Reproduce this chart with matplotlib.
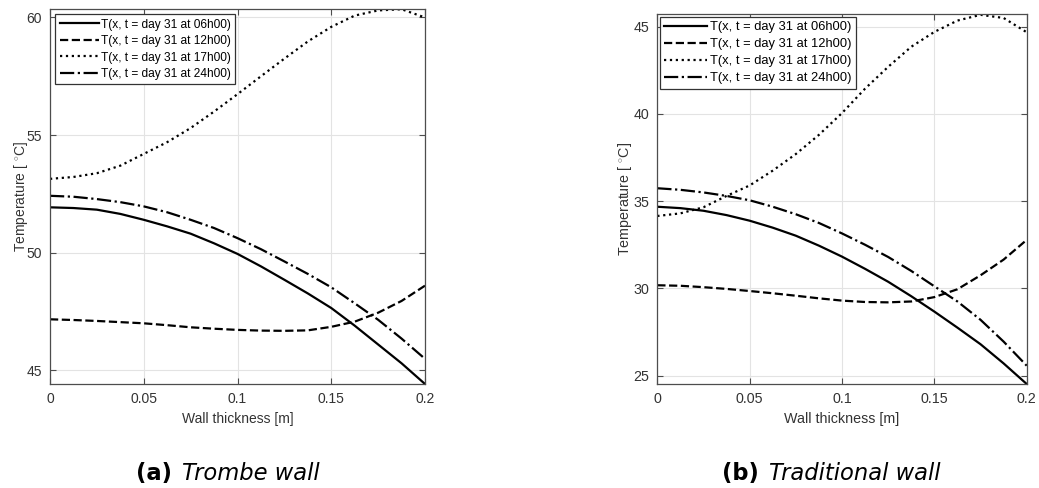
import matplotlib
matplotlib.use("Agg")
import matplotlib.pyplot as plt

plt.rcParams['font.family'] = ['Liberation Sans', 'DejaVu Sans']
plt.rcParams['mathtext.fontset'] = 'custom'
plt.rcParams['mathtext.rm'] = 'Liberation Sans'

# Wall thickness positions [m]
thickness = [0, 0.0125, 0.025, 0.0375, 0.05, 0.0625, 0.075, 0.0875, 0.1,
             0.1125, 0.125, 0.1375, 0.15, 0.1625, 0.175, 0.1875, 0.2]

# (a) Trombe wall temperature profiles [deg C]
trombe_06h = [51.93, 51.90, 51.83, 51.65, 51.40, 51.12, 50.81, 50.40, 49.95,
              49.42, 48.85, 48.27, 47.65, 46.90, 46.10, 45.30, 44.42]
trombe_12h = [47.17, 47.14, 47.10, 47.05, 47.00, 46.92, 46.83, 46.77, 46.72,
              46.69, 46.68, 46.70, 46.85, 47.07, 47.45, 47.95, 48.60]
trombe_17h = [53.14, 53.22, 53.38, 53.70, 54.20, 54.70, 55.30, 56.00, 56.74,
              57.50, 58.25, 58.98, 59.60, 60.08, 60.30, 60.35, 60.00]
trombe_24h = [52.42, 52.38, 52.28, 52.15, 51.97, 51.72, 51.40, 51.05, 50.62,
              50.15, 49.63, 49.10, 48.53, 47.85, 47.15, 46.35, 45.49]

# (b) Traditional wall temperature profiles [deg C]
trad_06h = [34.68, 34.60, 34.45, 34.20, 33.88, 33.48, 33.02, 32.45, 31.82,
            31.12, 30.38, 29.55, 28.67, 27.75, 26.80, 25.70, 24.52]
trad_12h = [30.18, 30.15, 30.07, 29.97, 29.85, 29.72, 29.58, 29.43, 29.30,
            29.22, 29.20, 29.25, 29.50, 29.95, 30.75, 31.65, 32.78]
trad_17h = [34.15, 34.30, 34.65, 35.30, 35.90, 36.75, 37.70, 38.80, 40.05,
            41.45, 42.70, 43.85, 44.70, 45.35, 45.68, 45.50, 44.68]
trad_24h = [35.74, 35.65, 35.50, 35.30, 35.05, 34.68, 34.25, 33.75, 33.15,
            32.50, 31.80, 31.00, 30.12, 29.25, 28.20, 26.95, 25.57]

series_labels = ['T(x, t = day 31 at 06h00)', 'T(x, t = day 31 at 12h00)',
                 'T(x, t = day 31 at 17h00)', 'T(x, t = day 31 at 24h00)']

x_ticks = [0, 0.05, 0.1, 0.15, 0.2]
x_ticklabels = ['0', '0.05', '0.1', '0.15', '0.2']
trombe_yticks = [45, 50, 55, 60]
trad_yticks = [25, 30, 35, 40, 45]

styles = ['-', '--', ':', '-.']
edge = '#4d4d4d'
label_col = '#333333'

W, H = 1039, 488
fig = plt.figure(figsize=(W / 100, H / 100), dpi=100)
ax_a = fig.add_axes([50 / W, 104 / H, 375 / W, 375 / H])
ax_b = fig.add_axes([657.3 / W, 104 / H, 369.4 / W, 369.7 / H])


def draw_panel(ax, curves, yticks, ylim, fs, legfs, ylabelpad, legpad, legspace):
    for y, ls, lab in zip(curves, styles, series_labels):
        ax.plot(thickness, y, color='black', linestyle=ls, linewidth=1.6, label=lab)
    ax.set_xlim(0, 0.2)
    ax.set_ylim(*ylim)
    ax.set_xticks(x_ticks)
    ax.set_xticklabels(x_ticklabels)
    ax.set_yticks(yticks)
    ax.set_yticklabels([str(v) for v in yticks])
    ax.grid(True, color='#e3e3e3', linewidth=0.8)
    ax.set_axisbelow(True)
    ax.tick_params(direction='in', length=4, width=0.8, colors=edge,
                   labelcolor=label_col, labelsize=fs, top=True, right=True,
                   pad=6)
    for s in ax.spines.values():
        s.set_color(edge)
        s.set_linewidth(0.9)
    ax.set_xlabel('Wall thickness [m]', fontsize=fs, color=label_col, labelpad=4)
    ax.set_ylabel(r'Temperature [ $^{\circ}$C]', fontsize=fs, color=label_col,
                  labelpad=ylabelpad)
    leg = ax.legend(loc='upper left', fontsize=legfs, handlelength=3.3,
                    handletextpad=0.2, borderpad=0.35, labelspacing=legspace,
                    fancybox=False, framealpha=1, borderaxespad=legpad)
    leg.get_frame().set_edgecolor('#333333')
    leg.get_frame().set_linewidth(0.9)


draw_panel(ax_a, [trombe_06h, trombe_12h, trombe_17h, trombe_24h],
           trombe_yticks, (44.42, 60.36), 10, 8.6, -3, 0.45, 0.38)
draw_panel(ax_b, [trad_06h, trad_12h, trad_17h, trad_24h],
           trad_yticks, (24.52, 45.71), 10.3, 9.3, -1, 0.2, 0.38)

# Sub-figure captions: bold tag followed by italic name, centred under each panel
fig.canvas.draw()
renderer = fig.canvas.get_renderer()
for xc, tag, name in [(228, '(a)', 'Trombe wall'), (831, '(b)', 'Traditional wall')]:
    a = fig.text(0, 8 / H, tag, fontsize=16.3, fontweight='bold',
                 family='DejaVu Sans', va='baseline')
    b = fig.text(0, 8 / H, name, fontsize=16.3, style='italic',
                 family='DejaVu Sans', va='baseline')
    wa = a.get_window_extent(renderer).width
    wb = b.get_window_extent(renderer).width
    gap = 10
    x0 = xc - (wa + gap + wb) / 2
    a.set_x(x0 / W)
    b.set_x((x0 + wa + gap) / W)

fig.savefig('out.png', dpi=100)
